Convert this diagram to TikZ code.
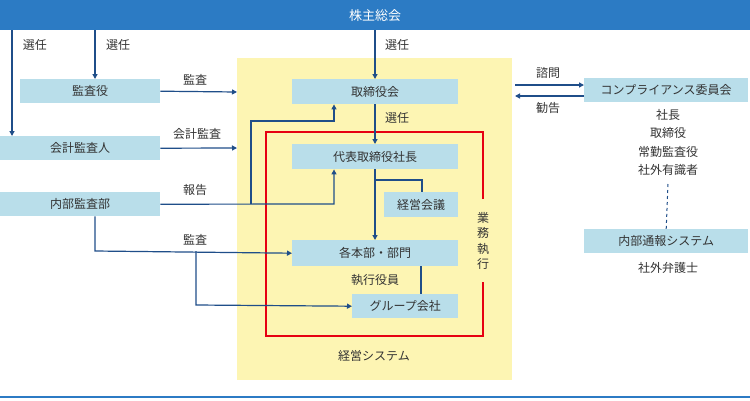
\documentclass[tikz,border=0pt]{standalone}
\usepackage{fontspec}
\setmainfont{Noto Sans CJK JP}
\usetikzlibrary{arrows.meta}
\definecolor{boxb}{HTML}{B9DEEA}
\definecolor{lineb}{HTML}{1F4E89}
\definecolor{yel}{HTML}{FDF5B3}
\definecolor{redl}{HTML}{E60012}
\definecolor{banner}{HTML}{2C7BC4}
\definecolor{txt}{HTML}{333333}
\begin{document}
\begin{tikzpicture}[x=1pt,y=-1pt,
  bx/.style={fill=boxb,text=txt,font=\fontsize{12}{14}\selectfont,inner sep=0pt},
  lb/.style={text=txt,font=\fontsize{12}{14}\selectfont,inner sep=1pt},
  ln/.style={draw=lineb,line width=1.2pt},
  ar/.style={ln,-{Triangle[length=5pt,width=5pt]}}]
\useasboundingbox (0,0) rectangle (750,400);
\fill[white] (0,0) rectangle (750,400);
% banner
\node[fill=banner,text=white,minimum width=750pt,minimum height=30pt,inner sep=0pt,anchor=north west,font=\fontsize{13}{15}\selectfont] (sh) at (0,0) {株主総会};
\draw[banner,line width=2pt] (0,397) -- (750,397);
% yellow region
\fill[yel] (237,58) rectangle (512,380);
\node[lb] (ks) at (374,356) {経営システム};
% red rect
\draw[redl,line width=2pt] (483,199) -- (483,132) -- (266,132) -- (266,336) -- (483,336) -- (483,282);
\node[lb,align=center,font=\fontsize{12}{15.5}\selectfont] (gy) at (483,241) {業\\務\\執\\行};
% boxes
\node[bx,minimum width=140pt,minimum height=24pt,anchor=north west] (kansa) at (20,79) {監査役};
\node[bx,minimum width=160pt,minimum height=24pt,anchor=north west] (kaikei) at (0,136) {会計監査人};
\node[bx,minimum width=160pt,minimum height=24pt,anchor=north west] (naibu) at (0,192) {内部監査部};
\node[bx,minimum width=166pt,minimum height=25pt,anchor=north west] (tori) at (292,79) {取締役会};
\node[bx,minimum width=166pt,minimum height=25pt,anchor=north west] (dai) at (292,144) {代表取締役社長};
\node[bx,minimum width=74pt,minimum height=25pt,anchor=north west] (keiei) at (384,192) {経営会議};
\node[bx,minimum width=166pt,minimum height=26pt,anchor=north west] (kaku) at (292,240) {各本部・部門};
\node[bx,minimum width=106pt,minimum height=24pt,anchor=north west] (grp) at (352,294) {グループ会社};
\node[lb] (shikko) at (375,280) {執行役員};
\node[bx,minimum width=164pt,minimum height=24pt,anchor=north west] (comp) at (584,78) {コンプライアンス委員会};
\node[lb,align=center,font=\fontsize{12}{18.5}\selectfont,anchor=north] (mem) at (668,108) {社長\\取締役\\常勤監査役\\社外有識者};
\node[bx,minimum width=164pt,minimum height=24pt,anchor=north west] (tsuho) at (584,229) {内部通報システム};
\node[lb] (bengo) at (668,268) {社外弁護士};
% coordinates
\coordinate (yl1) at (237,92);
\coordinate (yl2) at (237,148);
% senin arrows
\draw[ar] (12,30) -- (kaikei.north -| 12,0);
\node[lb] (s1) at (35,45) {選任};
\draw[ar] (95,30) -- (kansa.north -| 95,0);
\node[lb] (s2) at (118,45) {選任};
\draw[ar] (375,30) -- (tori.north -| 375,0);
\node[lb] (s3) at (397,45) {選任};
% audits
\draw[ar] (kansa.east) -- (yl1);
\node[lb] (a1) at (195,80) {監査};
\draw[ar] (kaikei.east) -- (yl2);
\node[lb] (a2) at (197,134) {会計監査};
\draw[ar] (naibu.east) -- (334,204) -- (dai.south -| 334,0);
\draw[ar] (251,204) -- (251,121) -- (334,121) -- (tori.south -| 334,0);
\node[lb] (r1) at (195,190) {報告};
\draw[ar] (naibu.south -| 95,0) -- (95,251) -- (kaku.west);
\draw[ar] (196,251) -- (196,305) -- (grp.west);
\node[lb] (a3) at (195,240) {監査};
% internal
\draw[ar] (tori.south -| 375,0) -- (dai.north -| 375,0);
\node[lb] (s4) at (397,118) {選任};
\draw[ar] (dai.south -| 375,0) -- (kaku.north -| 375,0);
\draw[ln] (375,180) -- (422,180) -- (keiei.north -| 422,0);
\draw[ln] (kaku.south -| 421,0) -- (grp.north -| 421,0);
% compliance
\draw[ar] (515,85) -- (comp.west |- 0,85);
\draw[ar] (comp.west |- 0,96) -- (515,96);
\node[lb] (sm) at (548,73) {諮問};
\node[lb] (kk) at (548,108) {勧告};
\draw[lineb,line width=1pt,dashed] (668,184) -- (tsuho.north);
\end{tikzpicture}
\end{document}
